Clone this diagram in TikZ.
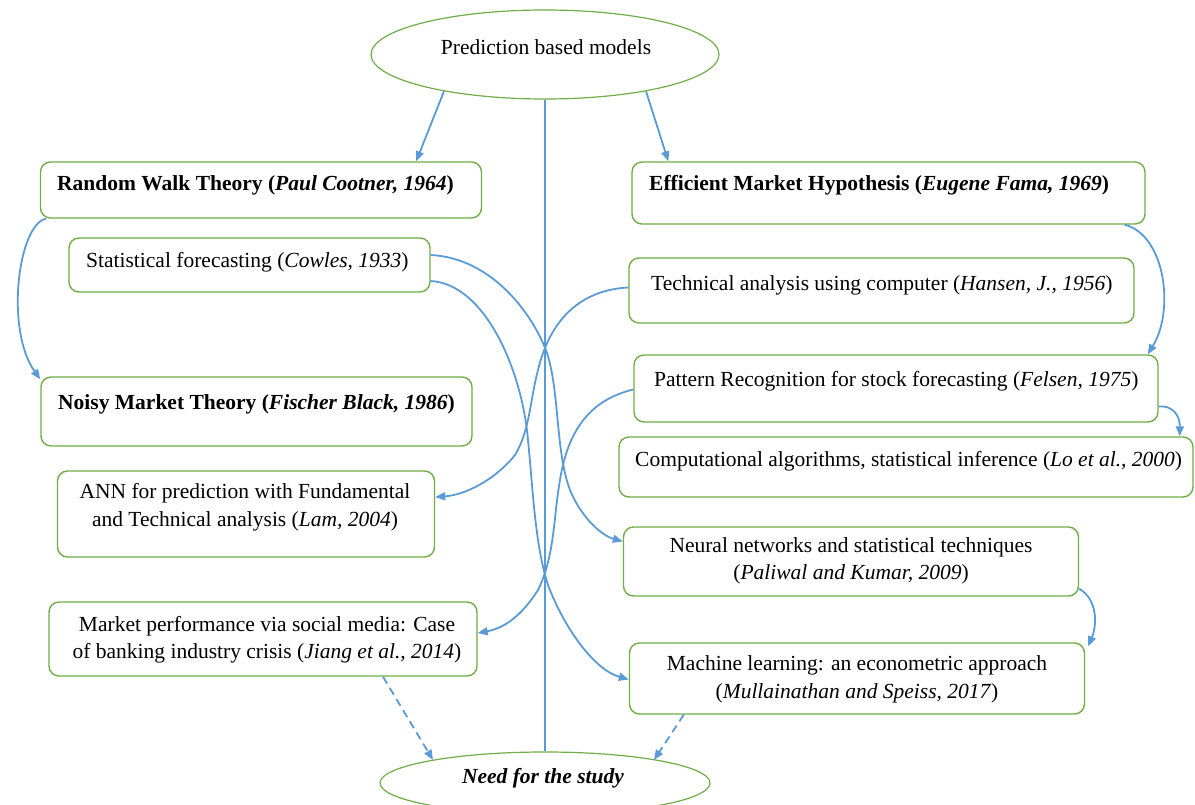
\documentclass[tikz,border=0pt]{standalone}
\usepackage{fontspec}
\setmainfont{Liberation Serif}
\usetikzlibrary{arrows.meta,shapes.geometric,calc}
\definecolor{bxgreen}{HTML}{70AD47}
\definecolor{arblue}{HTML}{5B9BD5}
\begin{document}
\begin{tikzpicture}[x=1pt,y=-1pt,
  box/.style={draw=bxgreen,line width=1.4pt,rounded corners=10pt,rectangle,inner sep=0pt},
  oval/.style={draw=bxgreen,line width=1.2pt,ellipse,inner sep=0pt},
  txt/.style={inner sep=0pt,font=\fontsize{21.5}{28}\selectfont},
  ctxt/.style={inner sep=0pt,align=center,font=\fontsize{21.5}{27.5}\selectfont},
  conn/.style={draw=arblue,line width=1.8pt,-{Triangle[length=10pt,width=8pt]}},
  dconn/.style={conn,dash pattern=on 8pt off 5pt},
  vline/.style={draw=arblue,line width=1.2pt}]
\useasboundingbox (0,0) rectangle (1195,805);
% ellipses
\node[oval,minimum width=348,minimum height=89] (top) at (545,54.5) {};
\node[txt] (topt) at (546,47) {Prediction based models};
\node[oval,minimum width=330,minimum height=62] (need) at (545,783) {};
\node[txt] (needt) at (543,778) {\bfseries\itshape Need for the study};
% boxes
\node[box,minimum width=441,minimum height=56] (rw) at (261,190) {};
\node[txt,anchor=west] (rwt) at (57,185) {\bfseries Random Walk Theory (\itshape Paul Cootner, 1964\upshape)};
\node[box,minimum width=513,minimum height=62] (emh) at (888.5,193) {};
\node[txt,anchor=west] (emht) at (649,185) {\bfseries Efficient Market Hypothesis (\itshape Eugene Fama, 1969\upshape)};
\node[box,minimum width=361,minimum height=54] (sf) at (249.5,265) {};
\node[txt,anchor=west] (sft) at (86,262) {Statistical forecasting (\textit{Cowles, 1933})};
\node[box,minimum width=505,minimum height=65] (ta) at (881.5,290.5) {};
\node[txt,anchor=west] (tat) at (651,285) {Technical analysis using computer (\textit{Hansen, J., 1956})};
\node[box,minimum width=524,minimum height=67] (pr) at (896,388.5) {};
\node[txt,anchor=west] (prt) at (654,381) {Pattern Recognition for stock forecasting (\textit{Felsen, 1975})};
\node[box,minimum width=574,minimum height=60] (ca) at (906,467) {};
\node[txt,anchor=west] (cat) at (635,461) {Computational algorithms, statistical inference (\textit{Lo et al., 2000})};
\node[box,minimum width=431,minimum height=69] (nm) at (256.5,411.5) {};
\node[txt,anchor=west] (nmt) at (58,404) {\bfseries Noisy Market Theory (\itshape Fischer Black, 1986\upshape)};
\node[box,minimum width=377,minimum height=86] (ann) at (246,514) {};
\node[ctxt] (annt) at (245,507) {ANN for prediction with Fundamental\\and Technical analysis (\textit{Lam, 2004})};
\node[box,minimum width=455,minimum height=69] (nn) at (851,561.5) {};
\node[ctxt] (nnt) at (851,561) {Neural networks and statistical techniques\\(\textit{Paliwal and Kumar, 2009})};
\node[box,minimum width=428,minimum height=74] (mp) at (263,639) {};
\node[ctxt] (mpt) at (267,639.5) {Market performance via social media: Case\\of banking industry crisis (\textit{Jiang et al., 2014})};
\node[box,minimum width=455,minimum height=71] (ml) at (857,678.5) {};
\node[ctxt] (mlt) at (857,679.5) {Machine learning: an econometric approach\\(\textit{Mullainathan and Speiss, 2017})};
% central line
\draw[vline] (top.south) -- (need.north);
% straight arrows from top
\draw[conn] (top.200) -- ($(rw.north east)+(-66,0)$);
\draw[conn] (top.340) -- ($(emh.north west)+(37,0)$);
% side curves
\draw[conn] ($(rw.south west)+(6,0)$) .. controls (18,225) and (5,330) .. ($(nm.north west)+(0,3)$);
\draw[conn] ($(emh.south east)+(-21,0)$) .. controls (1165,235) and (1175,310) .. ($(pr.north east)+(-11,0)$);
\draw[conn] ($(pr.east)+(0,18)$) .. controls (1172,405) and (1180,415) .. ($(ca.north east)+(-14,0)$);
\draw[conn] ($(nn.south east)+(0,-8)$) .. controls (1098,600) and (1097,625) .. ($(ml.north east)+(3,4)$);
% dashed to need
\draw[dconn] ($(mp.south)+(120,0)$) -- ($(need.center)+(-112,-23)$);
\draw[dconn] ($(ml.south west)+(55,0)$) -- ($(need.center)+(109,-23)$);
% crossing curves
\draw[conn] ($(sf.east)+(0,-10)$) .. controls (490,258) and (530,310) .. (546,350)
  .. controls (560,390) and (555,450) .. (570,490)
  .. controls (580,515) and (600,535) .. ($(nn.west)+(0,-20)$);
\draw[conn] ($(sf.east)+(0,16)$) .. controls (485,284) and (522,370) .. (528,440)
  .. controls (533,490) and (535,545) .. (548,585)
  .. controls (565,630) and (595,670) .. ($(ml.west)+(0,1)$);
\draw[conn] ($(ta.west)+(0,-3)$) .. controls (580,290) and (550,320) .. (538,370)
  .. controls (530,400) and (530,430) .. (515,455)
  .. controls (495,480) and (465,495) .. ($(ann.east)+(0,-17)$);
\draw[conn] ($(pr.west)+(0,1)$) .. controls (590,400) and (568,430) .. (560,480)
  .. controls (553,520) and (555,555) .. (538,590)
  .. controls (522,615) and (505,628) .. ($(mp.east)+(0,-6)$);
\end{tikzpicture}
\end{document}
